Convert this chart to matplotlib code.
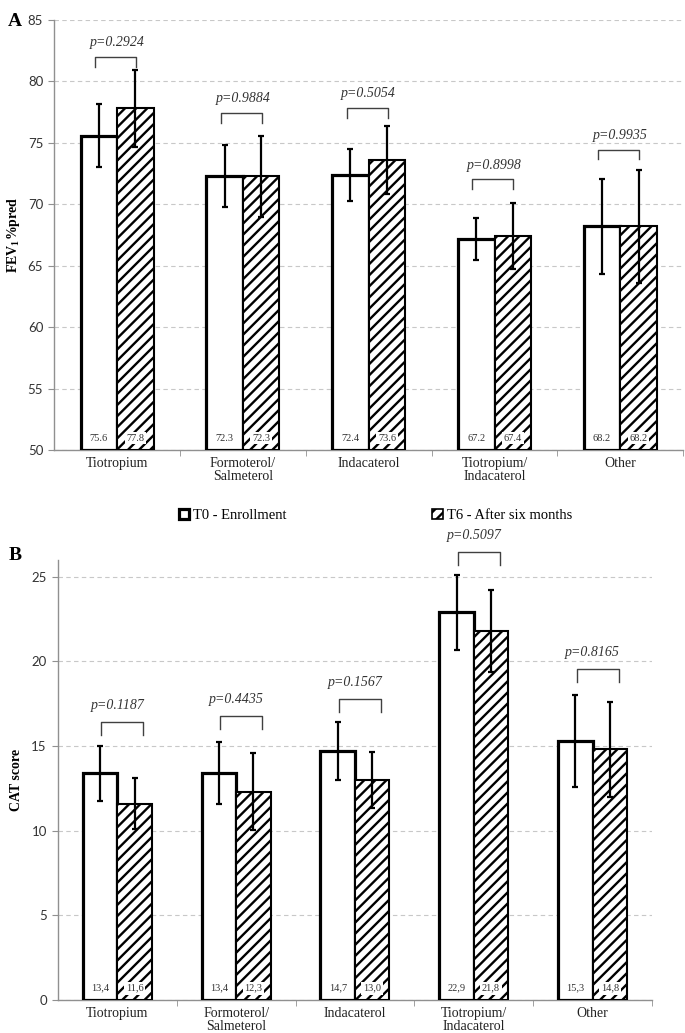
import matplotlib

matplotlib.use("Agg")
import matplotlib.pyplot as plt
from matplotlib.patches import Patch

categories = ["Tiotropium", "Formoterol/\nSalmeterol", "Indacaterol", "Tiotropium/\nIndacaterol", "Other"]
legend_labels = ["T0 - Enrollment", "T6 - After six months"]

# panel A: FEV1 %pred
fev_t0 = [75.6, 72.3, 72.4, 67.2, 68.2]
fev_t6 = [77.8, 72.3, 73.6, 67.4, 68.2]
fev_err_t0 = [2.6, 2.5, 2.1, 1.7, 3.9]
fev_err_t6 = [3.1, 3.3, 2.8, 2.7, 4.6]
fev_p = ["p=0.2924", "p=0.9884", "p=0.5054", "p=0.8998", "p=0.9935"]
fev_bracket = [82.0, 77.45, 77.86, 72.03, 74.45]

# panel B: CAT score
cat_t0 = [13.4, 13.4, 14.7, 22.9, 15.3]
cat_t6 = [11.6, 12.3, 13.0, 21.8, 14.8]
cat_err_t0 = [1.63, 1.84, 1.7, 2.2, 2.73]
cat_err_t6 = [1.52, 2.28, 1.64, 2.44, 2.82]
cat_p = ["p=0.1187", "p=0.4435", "p=0.1567", "p=0.5097", "p=0.8165"]
cat_bracket = [16.4, 16.77, 17.76, 26.46, 19.53]

SERIF = "Liberation Serif"
SANS = "Lato"
BAR_W = 0.29
plt.rcParams["hatch.linewidth"] = 1.7
plt.rcParams["mathtext.fontset"] = "custom"
plt.rcParams["mathtext.rm"] = "Liberation Serif:bold"
plt.rcParams["mathtext.it"] = "Liberation Serif:bold"
plt.rcParams["mathtext.bf"] = "Liberation Serif:bold"


def draw_panel(ax, t0, t6, err0, err6, pvals, brackets, ylim, step, ylabel,
               decimal, leg, txt_off, br_span):
    x = list(range(len(categories)))
    x0 = [i - BAR_W / 2 for i in x]
    x6 = [i + BAR_W / 2 for i in x]
    ax.bar(x0, [v - ylim[0] for v in t0], BAR_W, bottom=ylim[0], facecolor="white",
           edgecolor="black", linewidth=2.3, zorder=3)
    ax.bar(x6, [v - ylim[0] for v in t6], BAR_W, bottom=ylim[0], facecolor="white",
           edgecolor="black", hatch="///", linewidth=1.5, zorder=3)
    ax.errorbar(x0, t0, yerr=err0, fmt="none", ecolor="black", elinewidth=1.6,
                capsize=2.5, capthick=1.6, zorder=4)
    ax.errorbar(x6, t6, yerr=err6, fmt="none", ecolor="black", elinewidth=1.6,
                capsize=2.5, capthick=1.6, zorder=4)

    for i in x:
        for xx, v, boxed in ((x0[i], t0[i], False), (x6[i], t6[i], True)):
            s = f"{v:.1f}".replace(".", decimal)
            kw = dict(facecolor="white", edgecolor="none", pad=1.3) if boxed else None
            ax.annotate(s, (xx, ylim[0]), xytext=(0, 8.5), textcoords="offset points",
                        ha="center", va="center", fontsize=7.5, family=SERIF,
                        color="#333333", bbox=kw, zorder=5)
        b = brackets[i]
        xl, xr = i + br_span[0], i + br_span[1]
        ax.plot([xl, xl, xr, xr], [b - leg, b, b, b - leg], color="#404040",
                linewidth=1.0, clip_on=False, zorder=5)
        ax.text(i, b + txt_off, pvals[i], ha="center", va="center", fontsize=10,
                family=SERIF, style="italic", color="#333333", clip_on=False)

    ax.set_xlim(-0.5, len(categories) - 0.5)
    ax.set_ylim(*ylim)
    ax.set_yticks(range(ylim[0], int(ylim[1]) + 1, step))
    ax.set_xticks(x)
    ax.set_xticklabels(categories, family=SERIF, fontsize=10, color="#222222",
                       linespacing=1.0)
    ax.set_xticks([i + 0.5 for i in x], minor=True)
    ax.tick_params(axis="x", which="major", length=0, pad=5)
    ax.tick_params(axis="x", which="minor", length=4, color="#909090")
    ax.tick_params(axis="y", length=4, color="#909090", labelsize=9.5, pad=4,
                   labelcolor="#333333")
    for lab in ax.get_yticklabels():
        lab.set_family(SANS)
    ax.grid(axis="y", linestyle=(0, (4, 3)), color="#c8c8c8", linewidth=0.8, zorder=0)
    ax.set_axisbelow(True)
    for side in ("top", "right"):
        ax.spines[side].set_visible(False)
    for side in ("left", "bottom"):
        ax.spines[side].set_color("#909090")
        ax.spines[side].set_linewidth(1.0)
    ax.set_ylabel(ylabel, family=SERIF, fontsize=10, fontweight="bold")


fig = plt.figure(figsize=(6.85, 10.33), dpi=100)
ax_a = fig.add_axes([0.0793, 0.5644, 0.918, 0.4162])
ax_b = fig.add_axes([0.0845, 0.0319, 0.8673, 0.4262])

draw_panel(ax_a, fev_t0, fev_t6, fev_err_t0, fev_err_t6, fev_p, fev_bracket,
           (50, 85), 5, "FEV$_1$%pred", ".", 0.8, 1.15, (-0.175, 0.15))
draw_panel(ax_b, cat_t0, cat_t6, cat_err_t0, cat_err_t6, cat_p, cat_bracket,
           (0, 26), 5, "CAT score", ",", 0.75, 1.0, (-0.135, 0.22))
ax_b.set_yticks(range(0, 26, 5))
ax_a.yaxis.set_label_coords(-0.052, 0.5)
ax_b.yaxis.set_label_coords(-0.058, 0.5)

handles = [
    Patch(facecolor="white", edgecolor="black", linewidth=2.3),
    Patch(facecolor="white", edgecolor="black", hatch="///", linewidth=1.2),
]
fig.legend(handles, legend_labels, loc="center", bbox_to_anchor=(0.548, 0.5009),
           ncol=2, frameon=False, handlelength=0.7, handleheight=0.7,
           handletextpad=0.3, columnspacing=10.0,
           prop={"family": SERIF, "size": 10.5})

fig.text(0.012, 0.979, "A", family=SERIF, fontsize=14, fontweight="bold", va="center")
fig.text(0.012, 0.462, "B", family=SERIF, fontsize=14, fontweight="bold", va="center")

fig.savefig("out.png", dpi=100)
plt.close(fig)
